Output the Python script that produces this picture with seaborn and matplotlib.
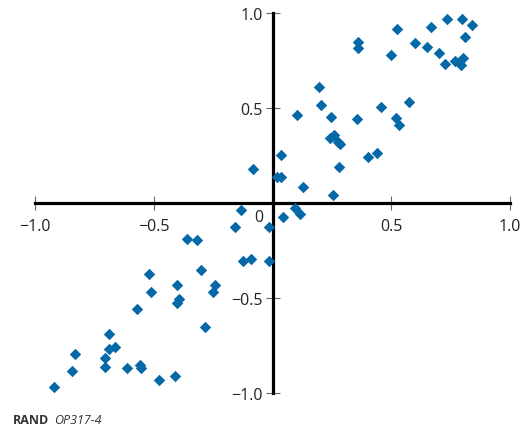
import matplotlib
matplotlib.use("Agg")
import matplotlib.pyplot as plt
import seaborn as sns
import pandas as pd

# Paired values for each observation (x, y)
x_vals = [
    0.735, 0.799, 0.842, 0.523, 0.666, 0.809, 0.362, 0.362, 0.598, 0.649,
    0.497, 0.700, 0.725, 0.768, 0.800, 0.795, 0.195, 0.203, 0.103, 0.245,
    0.354, 0.455, 0.574, 0.521, 0.532, 0.243, 0.261, 0.275, 0.284, 0.035,
    0.404, 0.441, 0.279, 0.021, 0.035, 0.129, 0.254, -0.083,
    -0.132, -0.157, -0.013, 0.043, 0.094, 0.115, -0.123, -0.090, -0.016,
    -0.316, -0.358, -0.518, -0.302, -0.510, -0.403, -0.392, -0.403, -0.241,
    -0.251, -0.283, -0.570, -0.688, -0.831, -0.663, -0.688, -0.705, -0.705,
    -0.845, -0.922, -0.613, -0.556, -0.553, -0.477, -0.410,
]
y_vals = [
    0.971, 0.971, 0.937, 0.916, 0.926, 0.875, 0.845, 0.818, 0.843, 0.822,
    0.780, 0.791, 0.734, 0.748, 0.763, 0.725, 0.612, 0.516, 0.463, 0.454,
    0.443, 0.505, 0.529, 0.446, 0.409, 0.343, 0.357, 0.322, 0.308, 0.254,
    0.243, 0.264, 0.192, 0.139, 0.139, 0.085, 0.043, 0.178,
    -0.038, -0.125, -0.125, -0.073, -0.027, -0.058, -0.306, -0.295, -0.306,
    -0.196, -0.188, -0.376, -0.354, -0.471, -0.429, -0.503, -0.524, -0.429,
    -0.471, -0.652, -0.557, -0.692, -0.797, -0.759, -0.766, -0.815, -0.862,
    -0.882, -0.966, -0.871, -0.850, -0.871, -0.934, -0.913,
]

tick_values = [-1.0, -0.5, 0.5, 1.0]
tick_labels = ["\u22121.0", "\u22120.5", "0.5", "1.0"]

df = pd.DataFrame({"x": x_vals, "y": y_vals})

sns.set_style("white")
plt.rcParams["font.family"] = ["Open Sans", "DejaVu Sans"]

fig = plt.figure(figsize=(5.26, 4.31), dpi=100)
ax = fig.add_axes([35 / 526, 37 / 431, 475 / 526, 380 / 431])

sns.scatterplot(data=df, x="x", y="y", marker="D", s=34, color="#0569A8",
                linewidth=0, ax=ax, clip_on=False, zorder=3)

ax.set_xlim(-1, 1)
ax.set_ylim(-1, 1)
ax.set_xlabel("")
ax.set_ylabel("")

# Axes crossing at the origin
for side in ("top", "right"):
    ax.spines[side].set_visible(False)
for side in ("left", "bottom"):
    ax.spines[side].set_position(("data", 0))
    ax.spines[side].set_bounds(-1, 1)
    ax.spines[side].set_linewidth(2.3)
    ax.spines[side].set_color("black")
    ax.spines[side].set_zorder(2)

ax.set_xticks(tick_values)
ax.set_xticklabels(tick_labels)
ax.set_yticks(tick_values)
ax.set_yticklabels(tick_labels)
ax.tick_params(axis="both", direction="inout", length=10, width=0.8,
               color="#666666", labelsize=11.5, labelcolor="#222222",
               bottom=True, left=True)
ax.tick_params(axis="x", pad=6)
ax.tick_params(axis="y", pad=2)

ax.text(-0.059, -0.072, "0", ha="center", va="center", fontsize=11.5,
        color="#222222")

fig.text(13 / 526, 1 - 421 / 431, "RAND", fontsize=9, fontweight="bold",
         color="#333333", va="center", ha="left")
fig.text(54 / 526, 1 - 421 / 431, "OP317-4", fontsize=9, fontstyle="italic",
         color="#333333", va="center", ha="left")

fig.savefig("out.png", dpi=100)
